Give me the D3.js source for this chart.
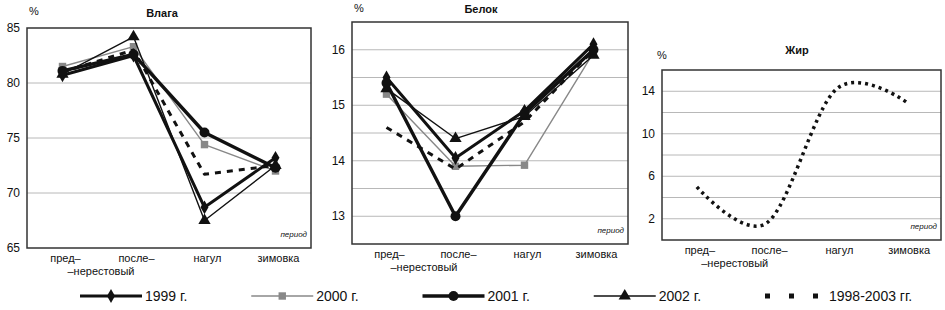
<!DOCTYPE html>
<html>
<head>
<meta charset="utf-8">
<script src="https://cdn.jsdelivr.net/npm/d3@7"></script>
<style>
  body { margin: 0; background: #fff; }
  text { font-family: "Liberation Sans", Arial, sans-serif; fill: #111; }
</style>
</head>
<body>
<script>
// периоды
const periods = ["пред", "после", "нагул", "зимовка"];
const periodLabels = ["пред–", "после–", "нагул", "зимовка"];

// Влага, %
const vlaga1999 = [80.7, 82.5, 68.7, 73.2];
const vlaga2000 = [81.5, 83.3, 74.4, 72.0];
const vlaga2001 = [81.1, 82.6, 75.5, 72.3];
const vlaga2002 = [80.8, 84.2, 67.5, 72.5];
const vlagaAvg  = [81.0, 83.0, 71.7, 72.5];

// Белок, %
const belok1999 = [15.5, 14.05, 14.9, 16.1];
const belok2000 = [15.2, 13.9, 13.92, 15.95];
const belok2001 = [15.4, 13.0, 14.85, 16.0];
const belok2002 = [15.3, 14.4, 14.8, 15.9];
const belokAvg  = [14.6, 13.85, 14.7, 16.0];

// Жир, %
const zhirAvg = [5.0, 1.6, 14.2, 13.0];

const legendNames = ["1999 г.", "2000 г.", "2001 г.", "2002 г.", "1998-2003 гг."];

// стили рядов
const styles = {
  y1999: { stroke: "#111", width: 3, marker: "diamond" },
  y2000: { stroke: "#888", width: 1.4, marker: "square" },
  y2001: { stroke: "#111", width: 3.4, marker: "circle" },
  y2002: { stroke: "#111", width: 1.4, marker: "triangle" },
  avg:   { stroke: "#111", width: 3, dash: "6,6" },
  dots:  { stroke: "#111", width: 3.5, dash: "3,4" }
};

const svg = d3.select("body").append("svg")
  .attr("width", 945)
  .attr("height", 310);

function addMarker(g, type, x, y, st) {
  if (type === "circle") {
    g.append("circle").attr("cx", x).attr("cy", y).attr("r", 5).attr("fill", st.stroke);
    return;
  }
  const sym = { diamond: d3.symbolDiamond, square: d3.symbolSquare, triangle: d3.symbolTriangle }[type];
  const size = { diamond: 55, square: 55, triangle: 65 }[type];
  g.append("path")
    .attr("d", d3.symbol().type(sym).size(size)())
    .attr("transform", "translate(" + x + "," + y + ")")
    .attr("fill", st.stroke);
}

function drawPanel(cfg) {
  const g = svg.append("g");
  const x = d3.scalePoint().domain(periods).range([cfg.left, cfg.right]).padding(0.5);
  const y = d3.scaleLinear().domain(cfg.domain).range([cfg.bottom, cfg.top]);

  // сетка
  g.selectAll("line.grid")
    .data(cfg.grid)
    .enter().append("line")
    .attr("x1", cfg.left).attr("x2", cfg.right)
    .attr("y1", d => y(d)).attr("y2", d => y(d))
    .attr("stroke", "#b8b8b8").attr("stroke-width", 1);

  // рамка
  g.append("rect")
    .attr("x", cfg.left).attr("y", cfg.top)
    .attr("width", cfg.right - cfg.left).attr("height", cfg.bottom - cfg.top)
    .attr("fill", "none").attr("stroke", "#333").attr("stroke-width", 1.5);

  // подписи оси Y
  g.selectAll("text.ytick")
    .data(cfg.ticks)
    .enter().append("text")
    .attr("x", cfg.left - 7)
    .attr("y", d => y(d))
    .attr("dy", "0.35em")
    .attr("text-anchor", "end")
    .attr("font-size", 12)
    .text(d => d);

  // подписи оси X
  g.selectAll("text.xtick")
    .data(periods)
    .enter().append("text")
    .attr("x", d => x(d) + 3)
    .attr("y", cfg.bottom + 14)
    .attr("text-anchor", "middle")
    .attr("font-size", 11)
    .text((d, i) => periodLabels[i]);
  g.append("text")
    .attr("x", (x(periods[0]) + x(periods[1])) / 2 + 3)
    .attr("y", cfg.bottom + 27)
    .attr("text-anchor", "middle")
    .attr("font-size", 11)
    .text("–нерестовый");

  g.append("text")
    .attr("x", cfg.right - 4).attr("y", cfg.bottom - 11)
    .attr("text-anchor", "end")
    .attr("font-size", 8).attr("font-style", "italic")
    .text("период");

  g.append("text")
    .attr("x", cfg.pctX).attr("y", cfg.pctY)
    .attr("font-size", 11)
    .text("%");
  g.append("text")
    .attr("x", cfg.titleX).attr("y", cfg.titleY)
    .attr("text-anchor", "middle")
    .attr("font-size", 11).attr("font-weight", "bold")
    .text(cfg.title);

  cfg.series.forEach(s => {
    const line = d3.line()
      .x((d, i) => x(periods[i]))
      .y(d => y(d))
      .curve(s.smooth ? d3.curveCatmullRom.alpha(0) : d3.curveLinear);
    g.append("path")
      .datum(s.values)
      .attr("d", line)
      .attr("fill", "none")
      .attr("stroke", s.style.stroke)
      .attr("stroke-width", s.style.width)
      .attr("stroke-dasharray", s.style.dash || null)
      .attr("stroke-linejoin", "round");
    if (s.style.marker) {
      s.values.forEach((v, i) => addMarker(g, s.style.marker, x(periods[i]), y(v), s.style));
    }
  });
}

drawPanel({
  title: "Влага", titleX: 162, titleY: 17, pctX: 29, pctY: 15,
  left: 27, right: 311, top: 28, bottom: 248,
  domain: [65, 85], grid: [70, 75, 80], ticks: [65, 70, 75, 80, 85],
  series: [
    { values: vlaga2000, style: styles.y2000 },
    { values: vlagaAvg, style: styles.avg },
    { values: vlaga2002, style: styles.y2002 },
    { values: vlaga1999, style: styles.y1999 },
    { values: vlaga2001, style: styles.y2001 }
  ]
});

drawPanel({
  title: "Белок", titleX: 481, titleY: 13, pctX: 354, pctY: 12,
  left: 352, right: 628, top: 22, bottom: 244,
  domain: [12.5, 16.5], grid: [13, 13.5, 14, 14.5, 15, 15.5, 16], ticks: [13, 14, 15, 16],
  series: [
    { values: belok2000, style: styles.y2000 },
    { values: belokAvg, style: styles.avg },
    { values: belok2002, style: styles.y2002 },
    { values: belok1999, style: styles.y1999 },
    { values: belok2001, style: styles.y2001 }
  ]
});

drawPanel({
  title: "Жир", titleX: 797, titleY: 54, pctX: 657, pctY: 59,
  left: 662, right: 941, top: 70, bottom: 240,
  domain: [0, 16], grid: [2, 4, 6, 8, 10, 12, 14], ticks: [2, 6, 10, 14],
  series: [
    { values: zhirAvg, style: styles.dots, smooth: true }
  ]
});

// легенда
const legendStyles = [styles.y1999, styles.y2000, styles.y2001, styles.y2002, styles.avg];
const lx = d3.scaleLinear().domain([0, 4]).range([80, 765]);
const leg = svg.append("g");
legendNames.forEach((name, i) => {
  const st = legendStyles[i];
  const x0 = lx(i);
  const len = st.dash ? 53 : 62;
  leg.append("line")
    .attr("x1", x0).attr("x2", x0 + len)
    .attr("y1", 296).attr("y2", 296)
    .attr("stroke", st.stroke)
    .attr("stroke-width", st.dash ? 5 : st.width)
    .attr("stroke-dasharray", st.dash ? "5,19" : null);
  if (st.marker) addMarker(leg, st.marker, x0 + 31, 296, st);
  leg.append("text")
    .attr("x", x0 + (st.dash ? 64 : 65))
    .attr("y", 301)
    .attr("font-size", 14)
    .attr("font-family", "'Liberation Sans Narrow', 'Liberation Sans', Arial, sans-serif")
    .text(name);
});
</script>
</body>
</html>
